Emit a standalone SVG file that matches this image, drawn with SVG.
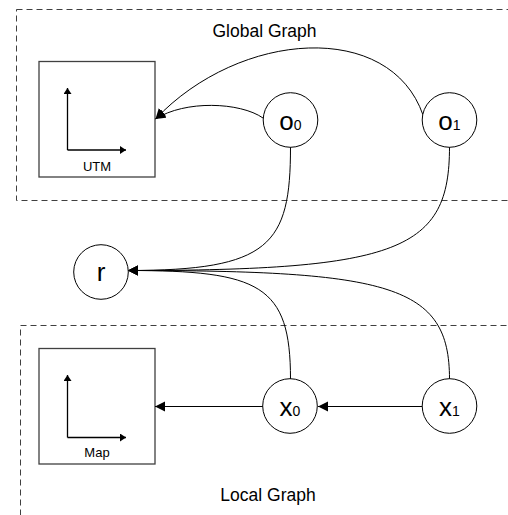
<svg xmlns="http://www.w3.org/2000/svg" width="508" height="515" viewBox="0 0 508 515">
<defs>
<style>
.frame{fill:none;stroke:#404040;stroke-width:1;stroke-dasharray:6 4}
.box{fill:#fff;stroke:#404040;stroke-width:1.3}
.node{fill:#fff;stroke:#000;stroke-width:1}
.edge{fill:none;stroke:#000;stroke-width:1}
.ax{fill:none;stroke:#000;stroke-width:1.3}
.lbl{font-family:"Liberation Sans",Arial,sans-serif;fill:#000}
</style>
<marker id="ah" markerUnits="userSpaceOnUse" markerWidth="11" markerHeight="11" refX="10" refY="5" orient="auto">
<path d="M0,0 L10,5 L0,10 z" fill="#000"/>
</marker>
<marker id="sh" markerUnits="userSpaceOnUse" markerWidth="7" markerHeight="9" refX="6" refY="4" orient="auto">
<path d="M0,0 L6,4 L0,8 z" fill="#000"/>
</marker>
</defs>
<rect width="508" height="515" fill="#fff"/>
<g id="global-graph">
<rect class="frame" x="16.5" y="9.5" width="510" height="191"/>
<text class="lbl" x="264.5" y="37" font-size="17.5" text-anchor="middle">Global Graph</text>
</g>
<g id="local-graph">
<rect class="frame" x="20.5" y="325.5" width="510" height="210"/>
<text class="lbl" x="268" y="501" font-size="17.5" text-anchor="middle">Local Graph</text>
</g>
<g id="utm">
<rect class="box" x="39" y="61.5" width="116" height="115.5"/>
<path class="ax" d="M67.5,150 L67.5,88" marker-end="url(#sh)"/>
<path class="ax" d="M67.5,150 L126,150" marker-end="url(#sh)"/>
<text class="lbl" x="97" y="171" font-size="13" text-anchor="middle">UTM</text>
</g>
<g id="map">
<rect class="box" x="39" y="348.5" width="116" height="115.5"/>
<path class="ax" d="M67.5,437.5 L67.5,375" marker-end="url(#sh)"/>
<path class="ax" d="M67.5,437.5 L126,437.5" marker-end="url(#sh)"/>
<text class="lbl" x="97" y="457" font-size="13" text-anchor="middle">Map</text>
</g>
<g id="connectors">
<path class="edge" d="M263,118 C240,102 185,100 155.5,119" marker-end="url(#ah)"/>
<path class="edge" d="M423,115 C390,20 240,30 155.5,119" marker-end="url(#ah)"/>
<path class="edge" d="M290.5,147 C290.5,245 270,270.5 128,270.5" marker-end="url(#ah)"/>
<path class="edge" d="M449.5,147 C449.5,250 400,270.5 128,270.5" marker-end="url(#ah)"/>
<path class="edge" d="M290.5,379 C290.5,285 260,270.5 128,270.5" marker-end="url(#ah)"/>
<path class="edge" d="M449.5,379 C449.5,285 390,270.5 128,270.5" marker-end="url(#ah)"/>
<path class="edge" d="M263,406.5 L155,406.5" marker-end="url(#ah)"/>
<path class="edge" d="M422,406.5 L318,406.5" marker-end="url(#ah)"/>
</g>
<g id="o0">
<circle class="node" cx="290.5" cy="120" r="27.3"/>
<text class="lbl" x="290.5" y="129.5" text-anchor="middle"><tspan font-size="26">o</tspan><tspan font-size="14">0</tspan></text>
</g>
<g id="o1">
<circle class="node" cx="449.5" cy="120" r="27.3"/>
<text class="lbl" x="449.5" y="129.5" text-anchor="middle"><tspan font-size="26">o</tspan><tspan font-size="14">1</tspan></text>
</g>
<g id="r">
<circle class="node" cx="101" cy="272" r="27.3"/>
<text class="lbl" x="101" y="281" font-size="26" text-anchor="middle">r</text>
</g>
<g id="x0">
<circle class="node" cx="290" cy="406" r="27.3"/>
<text class="lbl" x="290" y="415.5" text-anchor="middle"><tspan font-size="26">x</tspan><tspan font-size="14">0</tspan></text>
</g>
<g id="x1">
<circle class="node" cx="449.5" cy="406" r="27.3"/>
<text class="lbl" x="449.5" y="415.5" text-anchor="middle"><tspan font-size="26">x</tspan><tspan font-size="14">1</tspan></text>
</g>
</svg>
